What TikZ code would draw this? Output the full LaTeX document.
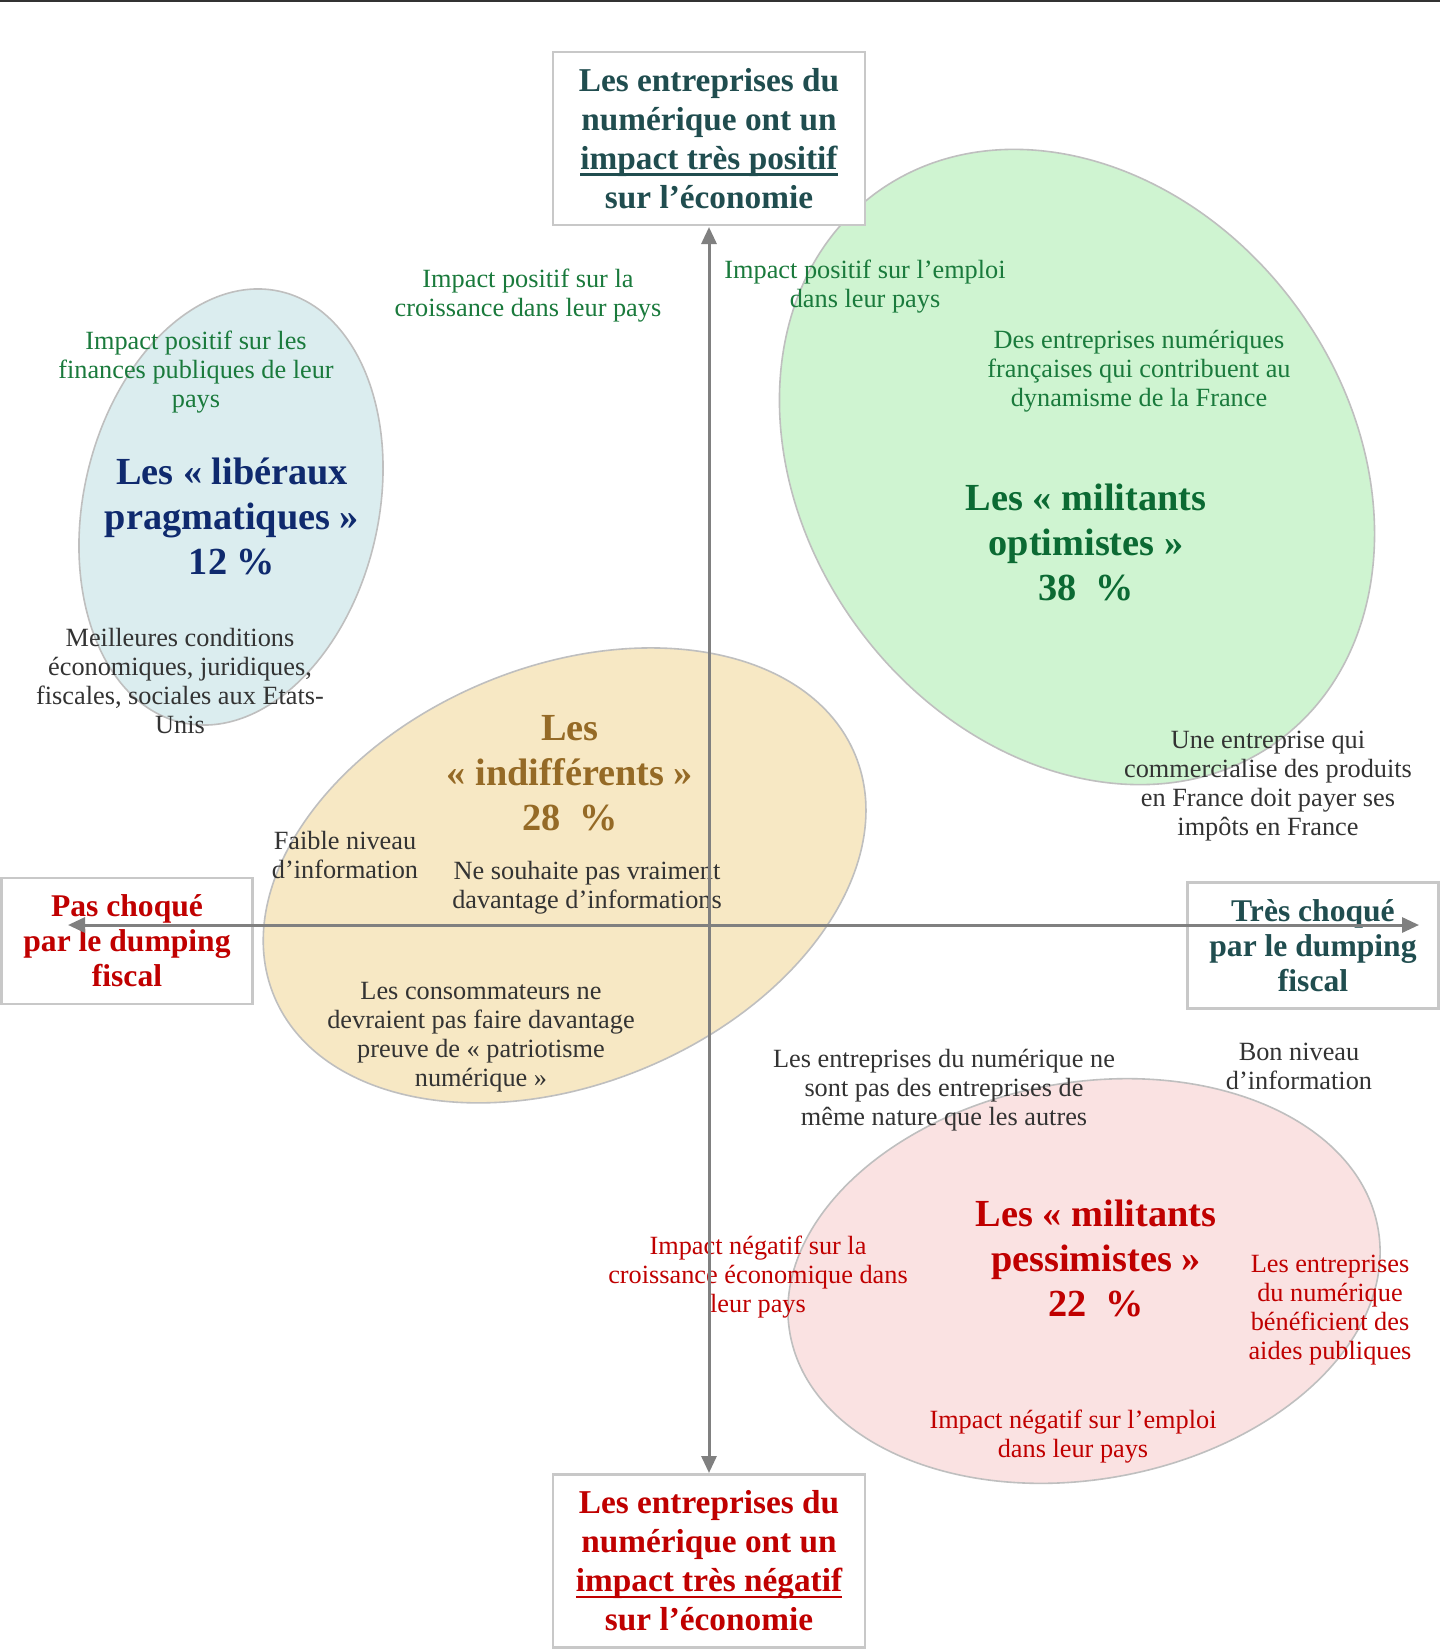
\documentclass[tikz,border=0pt]{standalone}
\usepackage{fontspec}
\setmainfont{Liberation Serif}
\usetikzlibrary{arrows.meta}
\definecolor{tealT}{HTML}{204D4F}
\definecolor{redT}{HTML}{C00000}
\definecolor{blueT}{HTML}{0F2A6E}
\definecolor{greenT}{HTML}{0B6A33}
\definecolor{greenS}{HTML}{1A7A3C}
\definecolor{brownT}{HTML}{956A26}
\definecolor{greyT}{HTML}{333333}
\definecolor{fillBlue}{HTML}{DBEDEF}
\definecolor{fillGreen}{HTML}{CFF4D1}
\definecolor{fillYellow}{HTML}{F7E8C4}
\definecolor{fillPink}{HTML}{FAE2E2}
\definecolor{ellBorder}{HTML}{BFBFBF}
\definecolor{boxBorder}{HTML}{C8C8C8}
\definecolor{axisC}{HTML}{808080}
\newcommand\ulin[1]{\setbox0\hbox{#1}\rlap{\rule[-0.19em]{\wd0}{2.2pt}}\box0}
\begin{document}
\begin{tikzpicture}[x=1pt,y=-1pt,
  smalltxt/.style={font=\fontsize{26.3}{29}\selectfont, align=center, inner sep=0pt},
  boxtitle/.style={font=\fontsize{33.3}{39}\selectfont\bfseries, align=center, inner sep=0pt,
     draw=boxBorder, line width=2.2pt, fill=white, minimum width=312pt, minimum height=173pt},
  sidetitle/.style={font=\fontsize{31.6}{35}\selectfont\bfseries, align=center, inner sep=0pt,
     draw=boxBorder, line width=2.2pt, fill=white, minimum width=251pt, minimum height=126pt},
  elltitle/.style={font=\fontsize{38.3}{45}\selectfont\bfseries, align=center, inner sep=0pt},
  ellshape/.style={draw=ellBorder, line width=1.6pt},
  axisline/.style={draw=axisC, line width=3pt,
     {Triangle[length=17pt,width=15pt]}-{Triangle[length=17pt,width=15pt]}}
]
\useasboundingbox (0,0) rectangle (1440,1652);
\fill[white] (0,0) rectangle (1440,1652);
\draw[line width=2.5pt, color=greyT] (0,1) -- (1440,1);

% ellipses
\draw[ellshape, fill=fillBlue, rotate around={-12.9:(231,507)}] (231,507) ellipse [x radius=147.5, y radius=221.1];
\draw[ellshape, fill=fillGreen, rotate around={-53.6:(1077,467)}] (1077,467) ellipse [x radius=339.9, y radius=271.8];
\draw[ellshape, fill=fillYellow, rotate around={22.6:(564.6,875.4)}] (564.6,875.4) ellipse [x radius=314.6, y radius=208.7];
\draw[ellshape, fill=fillPink, rotate around={10.2:(1084,1281)}] (1084,1281) ellipse [x radius=298.7, y radius=198.4];

% axis boxes
\node[boxtitle, text=tealT] (top) at (709,138.5) {Les entreprises du\\numérique ont un\\\ulin{impact très positif}\\sur l’économie};
\node[boxtitle, text=redT] (bottom) at (709,1561) {Les entreprises du\\numérique ont un\\\ulin{impact très négatif}\\sur l’économie};
\node[sidetitle, text=redT] (left) at (127,941) {Pas choqué\\par le dumping\\fiscal};
\node[sidetitle, text=tealT] (right) at (1313,945.5) {Très choqué\\par le dumping\\fiscal};

% group titles
\node[elltitle, text=blueT] (tlib) at (232,516) {Les «~libéraux\\pragmatiques~»\\12~\%};
\node[elltitle, text=greenT] (topt) at (1086,542) {Les «~militants\\optimistes~»\\38~~\%};
\node[elltitle, text=brownT] (tind) at (570,773) {Les\\«~indifférents~»\\28~~\%};
\node[elltitle, text=redT] (tpes) at (1096,1258) {Les «~militants\\pessimistes~»\\22~~\%};

% small texts
\node[smalltxt, text=greenS] (s1) at (196,372) {Impact positif sur les\\finances publiques de leur\\pays};
\node[smalltxt, text=greyT] (s2) at (180,681) {Meilleures conditions\\économiques, juridiques,\\fiscales, sociales aux Etats-\\Unis};
\node[smalltxt, text=greenS] (s3) at (528,296) {Impact positif sur la\\croissance dans leur pays};
\node[smalltxt, text=greenS] (s4) at (865,287) {Impact positif sur l’emploi\\dans leur pays};
\node[smalltxt, text=greenS] (s5) at (1139,371) {Des entreprises numériques\\françaises qui contribuent au\\dynamisme de la France};
\node[smalltxt, text=greyT] (s6) at (1268,786) {Une entreprise qui\\commercialise des produits\\en France doit payer ses\\impôts en France};
\node[smalltxt, text=greyT] (s7) at (345,855) {Faible niveau\\d’information};
\node[smalltxt, text=greyT] (s8) at (587,888) {Ne souhaite pas vraiment\\davantage d’informations};
\node[smalltxt, text=greyT] (s9) at (481,1037) {Les consommateurs ne\\devraient pas faire davantage\\preuve de «~patriotisme\\numérique~»};
\node[smalltxt, text=greyT] (s10) at (944,1090) {Les entreprises du numérique ne\\sont pas des entreprises de\\même nature que les autres};
\node[smalltxt, text=greyT] (s11) at (1299,1066) {Bon niveau\\d’information};
\node[smalltxt, text=redT] (s12) at (758,1277) {Impact négatif sur la\\croissance économique dans\\leur pays};
\node[smalltxt, text=redT] (s13) at (1330,1310) {Les entreprises\\du numérique\\bénéficient des\\aides publiques};
\node[smalltxt, text=redT] (s14) at (1073,1437) {Impact négatif sur l’emploi\\dans leur pays};

% axes
\coordinate (vt) at (709,227);
\coordinate (vb) at (709,1473);
\coordinate (hl) at (68,925);
\coordinate (hr) at (1419,925);
\draw[axisline] (vb) -- (vt);
\draw[axisline] (hl) -- (hr);
\end{tikzpicture}
\end{document}
